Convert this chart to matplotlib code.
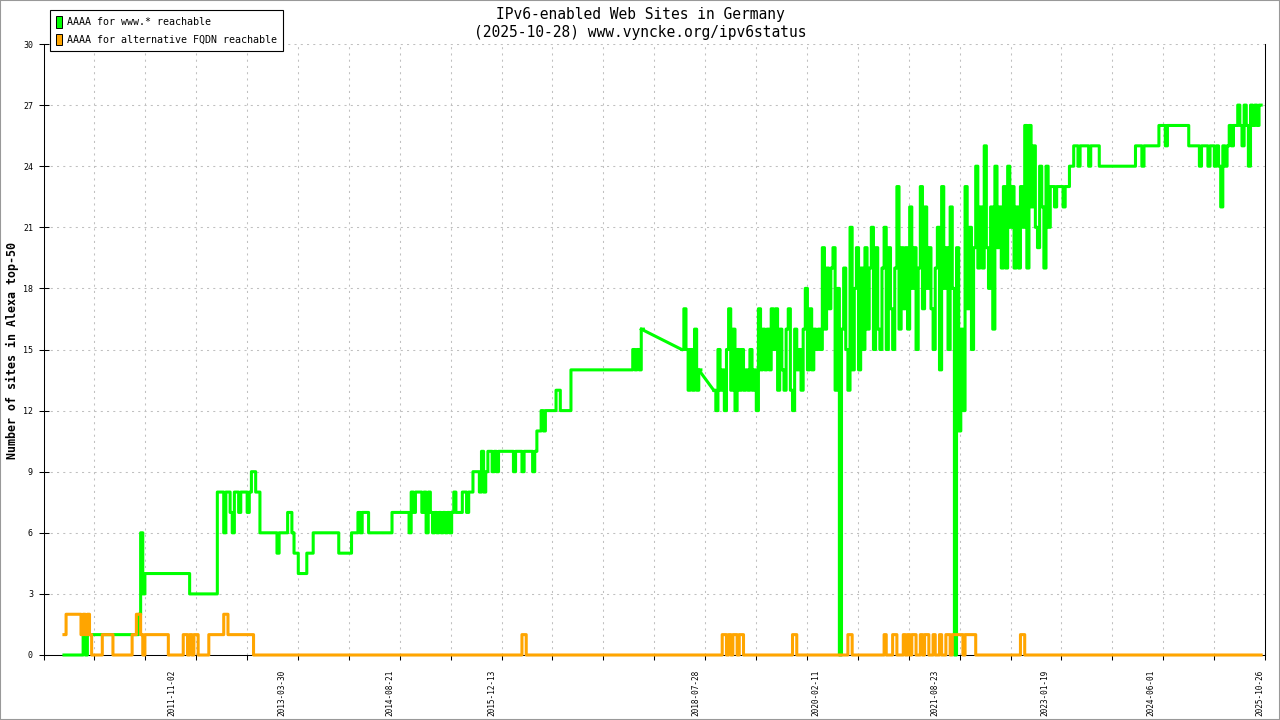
import matplotlib
matplotlib.use("Agg")
import matplotlib.pyplot as plt
import matplotlib.dates as mdates
from matplotlib.patches import Patch, Rectangle
import numpy as np

plt.rcParams['font.family'] = ['DejaVu Sans Mono', 'DejaVu Sans']

nan = np.nan

# one measurement every 10 days from first_day on (nan = no measurement)
first_day = "2010-06-12"
step_days = 10

# AAAA for www.* reachable
www_sites = ([0]*9 + [1, 0] + [1]*24 + [2, 6, 3] + [4]*21 + [3]*13
             + [8, 8, 8, 6, 8, 8, 7, 6, 8, 8, 7, 8, 8, 8, 7, 8, 9, 9, 8, 8]
             + [6]*8 + [5] + [6]*4
             + [7, 7, 6, 5, 5, 4, 4, 4, 4, 5, 5, 5]
             + [6]*12 + [5]*6 + [6, 6, 6, 7, 6, 7, 7, 7] + [6]*11 + [7]*8
             + [6, 8, 7, 8, 8, 8, 7, 8, 6, 8, 7, 6]
             + [7, 6, 7, 6, 7, 6, 7, 6, 7, 8]
             + [7, 7, 7, 8, 8, 7, 8, 8, 9, 9, 9, 8, 10, 8, 9, 10]
             + [10, 9, 10, 9] + [10]*7 + [9] + [10]*3 + [9] + [10]*4 + [9]
             + [10, 11, 11, 12, 11, 12] + [12]*4 + [13, 13] + [12]*5
             + [14]*29 + [15, 14, 15, 14, 16] + [nan]*18
             + [15, 17, 15, 13, 15, 13, 16, 13, 14] + [nan]*6
             + [13, 12, 15, 13, 14, 12, 15, 17, 13, 16,
                12, 15, 13, 15, 13, 14, 13, 15, 13, 14,
                12, 17, 14, 16, 14, 16, 14, 17, 15, 17,
                13, 16, 14, 13, 16, 17, 13, 12, 16, 14,
                15, 13, 16, 18, 14, 17, 14, 16, 15, 16,
                15, 20, 16, 19, 17, 19, 20, 13, 18, 0,
                16]
             + [19, 15, 13, 21, 14, 18, 20, 14, 19, 15,
                20, 16, 19, 21, 15, 20, 16, 15, 19, 21,
                15, 20, 17, 15, 19, 23, 16, 20, 17, 20,
                16, 22, 18, 20, 15, 19, 23, 17, 22, 18,
                20, 17, 15, 19, 21, 14, 23, 18, 20, 15,
                22, 18, 0, 20, 11]
             + [16, 12, 23, 17, 21, 15, 20, 24, 19, 22,
                19, 25, 20, 18, 22, 16, 24, 20, 22, 19,
                23, 19, 24, 21, 23, 19, 22, 19, 23, 21,
                26, 19, 26, 22, 25, 21, 20, 24, 22, 19,
                24, 21, 23]
             + [23, 22, 23, 23, 23, 22, 23, 23, 24, 24, 25, 25, 24,
                25, 25, 25, 25, 24, 25, 25, 25, 25]
             + [24]*17 + [25, 25, 25, 24] + [25]*7
             + [26, 26, 26, 25] + [26]*10
             + [25]*5 + [24] + [25]*3 + [24, 25, 25]
             + [24, 25, 24, 22, 25, 24, 25, 26, 25, 26, 26, 27,
                26, 25, 27, 26, 24, 27, 26, 27, 26, 27, 27])

# AAAA for alternative FQDN reachable
alt_sites = ([1] + [2]*7 + [1, 2, 1, 2, 1] + [0]*5 + [1]*5 + [0]*9
             + [1, 1, 2, 2, 1, 0] + [1]*11 + [0]*7 + [1, 1, 0, 1, 0, 1, 1]
             + [0]*5 + [1]*7 + [2, 2] + [1]*12
             + [0]*126 + [1, 1] + [0]*92
             + [1, 1, 0, 1, 0, 1, 1, 0, 1, 1] + [0]*23 + [1, 1] + [0]*24
             + [1, 1] + [0]*15 + [1] + [0]*3 + [1, 1] + [0]*3 + [1] + [0]
             + [1, 0, 1, 1] + [0, 0] + [1] + [0] + [1, 1] + [0, 0] + [1]
             + [0, 0] + [1] + [0, 0]
             + [1, 1, 0, 1, 1, 1, 1, 1, 0, 1, 1, 1, 1, 1]
             + [0]*21 + [1, 1] + [0]*112)

label_dates = ["2011-11-02", "2013-03-30", "2014-08-21", "2015-12-13",
               "2018-07-28", "2020-02-11", "2021-08-23", "2023-01-19",
               "2024-06-01", "2025-10-26"]
x_start = "2010-03-08"
x_end = "2025-11-18"

title1 = "IPv6-enabled Web Sites in Germany"
title2 = "(2025-10-28) www.vyncke.org/ipv6status"
legend_labels = ["AAAA for www.* reachable", "AAAA for alternative FQDN reachable"]
green = "#00ff00"
orange = "#ffa500"


def sample_days(n):
    d = np.datetime64(first_day) + np.arange(n) * np.timedelta64(step_days, "D")
    return mdates.date2num(d)


def draw_series(ax, values, color, z):
    y = np.array(values, dtype=float)
    x = sample_days(len(y))
    ax.plot(x, y, color=color, lw=2.2, drawstyle="steps-post",
            clip_on=False, zorder=z)
    # periods without measurements are bridged by a straight line
    idx = np.flatnonzero(~np.isnan(y))
    for a, b in zip(idx[:-1], idx[1:]):
        if b - a > 1:
            ax.plot(x[[a, b]], y[[a, b]], color=color, lw=2.2,
                    clip_on=False, zorder=z)


fig = plt.figure(figsize=(12.8, 7.2), dpi=100)
ax = fig.add_axes([43.5 / 1280, 65 / 720, 1221.5 / 1280, 611 / 720])

draw_series(ax, www_sites, green, 3)
draw_series(ax, alt_sites, orange, 4)

lo = mdates.date2num(np.datetime64(x_start))
hi = mdates.date2num(np.datetime64(x_end))
ax.set_xlim(lo, hi)
ax.set_ylim(0, 30)

ax.set_xticks(np.linspace(lo, hi, 25))
ax.set_xticklabels([])
ax.set_xticks(mdates.date2num(np.array(label_dates, dtype="datetime64[D]")), minor=True)
ax.set_xticklabels(label_dates, minor=True, rotation=90, fontsize=5.6)
ax.tick_params(axis="x", which="major", direction="out", length=3.8, width=0.75)
ax.tick_params(axis="x", which="minor", length=0, pad=10.8)

ax.set_yticks(range(0, 31, 3))
ax.tick_params(axis="y", direction="inout", length=7.2, width=0.75, labelsize=6, pad=4)

ax.grid(True, which="major", color="#c0c0c0", lw=0.75, linestyle=(0, (2, 4)))
ax.set_axisbelow(True)

ax.spines["top"].set_visible(False)
for s in ("left", "bottom", "right"):
    ax.spines[s].set_linewidth(0.75)
    ax.spines[s].set_color("black")

fig.text(0.5, 1 - 15 / 720, title1, ha="center", va="center", fontsize=10.5)
fig.text(0.5, 1 - 33 / 720, title2, ha="center", va="center", fontsize=10.5)
fig.text(12.7 / 1280, 1 - 350 / 720, "Number of sites in Alexa top-50",
         rotation=90, ha="center", va="center", fontsize=8.4, fontweight="bold")

handles = [Patch(facecolor=green, edgecolor="black", lw=0.7),
           Patch(facecolor=orange, edgecolor="black", lw=0.7)]
leg = fig.legend(handles, legend_labels, loc="upper left",
                 bbox_to_anchor=(50 / 1280, 1 - 10 / 720), borderaxespad=0,
                 fancybox=False, edgecolor="black", framealpha=1,
                 prop={"size": 7.2}, handlelength=0.6, handleheight=1.4,
                 handletextpad=0.5, borderpad=0.6, labelspacing=0.6)
leg.get_frame().set_linewidth(0.8)

fig.patches.append(Rectangle((0, 0), 1, 1, transform=fig.transFigure,
                             fill=False, edgecolor="#999999", lw=1.5))

fig.savefig("out.png", dpi=100)
